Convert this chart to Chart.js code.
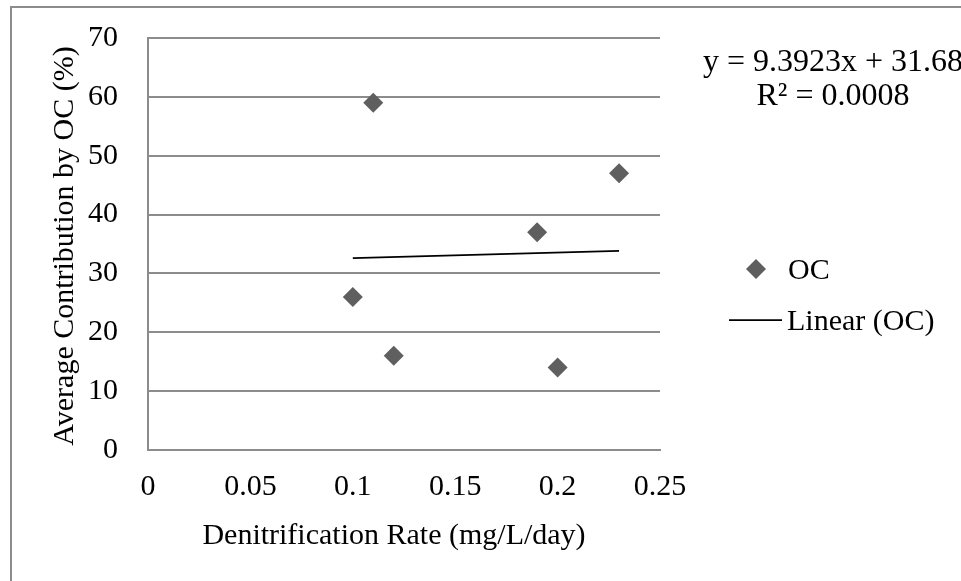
<!DOCTYPE html>
<html><head><meta charset="utf-8">
<script src="https://cdn.jsdelivr.net/npm/chart.js@4.4.1/dist/chart.umd.min.js"></script>
<style>
html,body{margin:0;padding:0;background:#fff;overflow:hidden;width:961px;height:581px}
#frame{position:absolute;left:10px;top:6px;width:1200px;height:800px;border:2px solid #8c8c8c;box-sizing:border-box}
#wrap{position:absolute;left:0;top:0;width:961px;height:581px}
</style></head><body>
<div id="frame"></div>
<div id="wrap"><canvas id="c" width="961" height="581"></canvas></div>
<script>
// ---- data ----
const denitRate = [0.10, 0.11, 0.12, 0.19, 0.20, 0.23];
const ocContribution = [26, 59, 16, 37, 14, 47];
const xTickLabels = ['0', '0.05', '0.1', '0.15', '0.2', '0.25'];
const yTickLabels = ['0', '10', '20', '30', '40', '50', '60', '70'];
const trendSlope = 9.3923;
const trendIntercept = 31.68;
const trendX = [0.10, 0.23];
const equationLines = ['y = 9.3923x + 31.68', 'R\u00B2 = 0.0008'];
const seriesName = 'OC';
const trendName = 'Linear (OC)';
const xTitle = 'Denitrification Rate (mg/L/day)';
const yTitle = 'Average Contribution by OC (%)';

const FONT = "'Liberation Serif', 'Times New Roman', serif";
const GRID = '#8c8c8c';
const MARK = '#5f5f5f';

const points = denitRate.map((x, i) => ({x: x, y: ocContribution[i]}));
const trend = trendX.map(x => ({x: x, y: trendSlope * x + trendIntercept}));

const textPlugin = {
  id: 'texts',
  afterDraw(chart) {
    const ctx = chart.ctx;
    ctx.save();
    ctx.fillStyle = '#000';
    ctx.textBaseline = 'alphabetic';
    // x title
    ctx.font = '30px ' + FONT;
    ctx.textAlign = 'center';
    ctx.fillText(xTitle, 394, 544);
    // y title
    ctx.save();
    ctx.translate(73, 246);
    ctx.rotate(-Math.PI / 2);
    ctx.fillText(yTitle, 0, 0);
    ctx.restore();
    // equation
    ctx.font = '32px ' + FONT;
    ctx.fillText(equationLines[0], 833, 71);
    ctx.fillText(equationLines[1], 833, 105);
    // legend
    ctx.font = '30px ' + FONT;
    ctx.textAlign = 'left';
    ctx.fillStyle = MARK;
    ctx.beginPath();
    ctx.moveTo(756, 259); ctx.lineTo(766, 269); ctx.lineTo(756, 279); ctx.lineTo(746, 269);
    ctx.closePath(); ctx.fill();
    ctx.fillStyle = '#000';
    ctx.fillText(seriesName, 788, 279);
    ctx.strokeStyle = '#000';
    ctx.lineWidth = 1.75;
    ctx.beginPath(); ctx.moveTo(729, 320); ctx.lineTo(782, 320); ctx.stroke();
    ctx.fillText(trendName, 787, 330);
    ctx.restore();
  }
};

new Chart(document.getElementById('c'), {
  type: 'scatter',
  data: {
    datasets: [
      {
        label: seriesName,
        data: points,
        pointStyle: 'rectRot',
        pointRadius: 10,
        pointHoverRadius: 10,
        backgroundColor: MARK,
        borderColor: MARK,
        borderWidth: 0,
        showLine: false
      },
      {
        label: trendName,
        type: 'line',
        data: trend,
        borderColor: '#000',
        borderWidth: 1.75,
        pointRadius: 0,
        fill: false,
        tension: 0
      }
    ]
  },
  options: {
    responsive: false,
    animation: false,
    events: [],
    layout: {padding: {left: 0, top: 38, right: 301, bottom: 0}},
    plugins: {legend: {display: false}, tooltip: {enabled: false}},
    scales: {
      x: {
        type: 'linear',
        min: 0, max: 0.25,
        afterFit: s => { s.height = 131; s.paddingLeft = 0; s.paddingRight = 0; },
        afterBuildTicks: s => { s.ticks = xTickLabels.map(v => ({value: parseFloat(v)})); },
        ticks: {
          callback: (v, i) => xTickLabels[i],
          font: {family: FONT, size: 30},
          color: '#000',
          padding: 19,
          maxRotation: 0,
          autoSkip: false
        },
        grid: {display: false, drawTicks: false},
        border: {display: true, color: GRID, width: 2}
      },
      y: {
        type: 'linear',
        min: 0, max: 70,
        afterFit: s => { s.width = 148; s.paddingTop = 0; s.paddingBottom = 0; },
        afterBuildTicks: s => { s.ticks = yTickLabels.map(v => ({value: parseFloat(v)})); },
        ticks: {
          callback: (v, i) => yTickLabels[i],
          font: {family: FONT, size: 30},
          color: '#000',
          padding: 30,
          autoSkip: false
        },
        grid: {color: GRID, lineWidth: 2, drawTicks: false},
        border: {display: true, color: GRID, width: 2}
      }
    }
  },
  plugins: [textPlugin]
});
</script>
</body></html>
